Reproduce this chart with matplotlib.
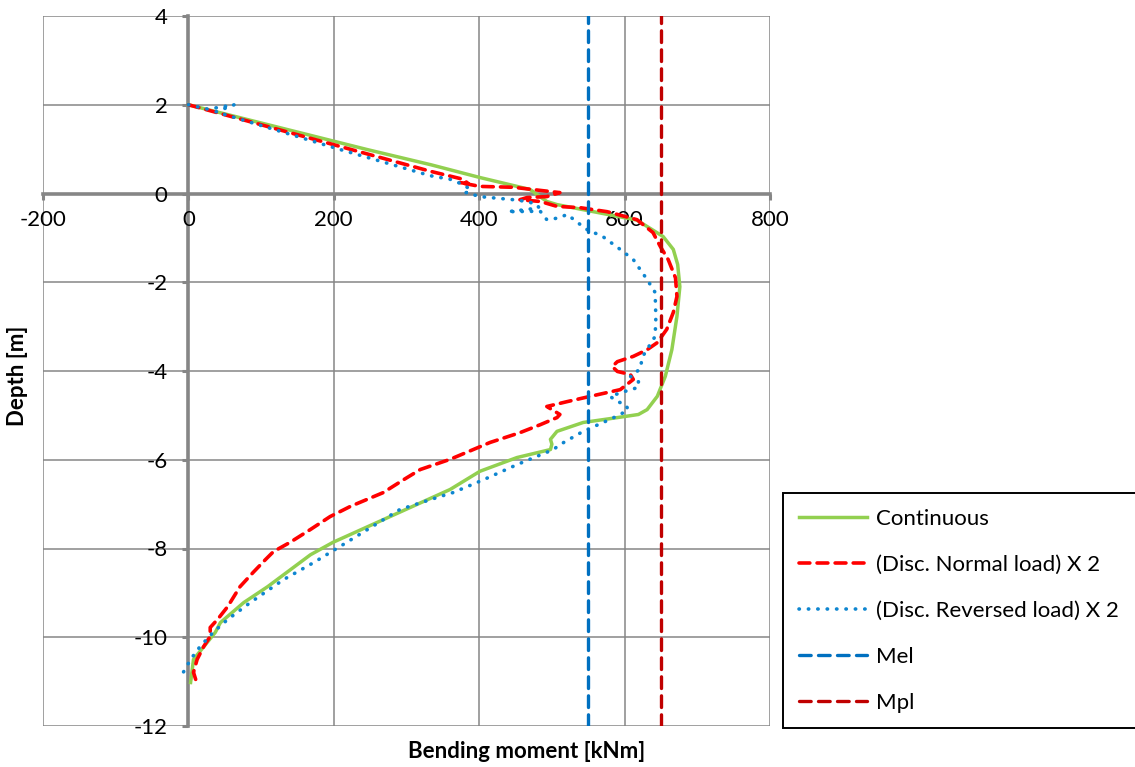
import matplotlib.pyplot as plt

plt.rcParams['font.family'] = ['Lato', 'DejaVu Sans']
plt.rcParams['axes.unicode_minus'] = False

# bending moment [kNm] vs depth [m]
cont_m = [0, 246, 333, 401, 470, 493, 507, 617, 653, 667, 673, 676, 672, 665, 656, 645,
          631, 619, 590, 543, 507, 498, 500, 498, 452, 401, 360, 268, 199, 168, 109, 76,
          44, 37, 7, 3]
cont_d = [2.0, 0.99, 0.65, 0.36, 0.09, -0.18, -0.25, -0.60, -0.97, -1.26, -1.6, -2.1,
          -2.77, -3.52, -4.12, -4.57, -4.87, -4.98, -5.05, -5.16, -5.36, -5.54, -5.65,
          -5.77, -5.95, -6.26, -6.67, -7.35, -7.86, -8.14, -8.86, -9.22, -9.67, -9.89,
          -10.5, -11.02]

norm_m = [0, 333, 378, 385, 372, 401, 447, 484, 511, 493, 466, 456, 484, 507, 539, 576,
          617, 639, 649, 660, 670, 672, 667, 658, 645, 631, 612, 590, 583, 590, 608, 612,
          594, 553, 521, 493, 511, 507, 484, 456, 415, 360, 319, 296, 268, 223, 195, 168,
          140, 117, 106, 89, 71, 54, 40, 30, 30, 21, 12, 7, 10]
norm_d = [2.0, 0.50, 0.32, 0.22, 0.25, 0.16, 0.14, 0.07, 0.02, -0.07, -0.09, -0.14,
          -0.18, -0.29, -0.32, -0.41, -0.59, -0.88, -1.19, -1.49, -1.9, -2.32, -2.68,
          -3.06, -3.36, -3.52, -3.67, -3.79, -3.90, -4.01, -4.08, -4.19, -4.42, -4.57,
          -4.69, -4.80, -4.98, -5.05, -5.21, -5.39, -5.61, -5.99, -6.22, -6.45, -6.74,
          -7.05, -7.28, -7.57, -7.86, -8.07, -8.25, -8.54, -8.86, -9.31, -9.60, -9.78,
          -9.98, -10.21, -10.50, -10.79, -10.95]

rev_m = [0, 27, 63, 38, 209, 333, 360, 378, 388, 382, 401, 447, 466, 480, 482, 466, 439,
         484, 493, 510, 521, 535, 548, 570, 594, 612, 631, 642, 643, 642, 625, 621, 608,
         619, 619, 608, 580, 590, 601, 605, 594, 580, 543, 511, 502, 452, 406, 364, 346,
         291, 209, 172, 131, 85, 54, 34, 16, 3, -7, -11]
rev_d = [2.0, 1.90, 2.00, 1.84, 0.99, 0.40, 0.32, 0.20, 0.09, 0.02, -0.07, -0.14, -0.18,
         -0.25, -0.32, -0.36, -0.41, -0.40, -0.59, -0.55, -0.47, -0.65, -0.81, -0.97,
         -1.26, -1.49, -1.94, -2.23, -2.8, -3.22, -3.67, -3.96, -4.12, -4.24, -4.37,
         -4.42, -4.57, -4.69, -4.75, -4.87, -4.98, -5.09, -5.36, -5.66, -5.77, -6.11,
         -6.45, -6.74, -6.83, -7.12, -7.95, -8.32, -8.70, -9.22, -9.60, -9.89, -10.21,
         -10.50, -10.79, -10.95]

mel = 550
mpl_val = 650

gray = '#868686'

fig = plt.figure(figsize=(11.35, 7.67), dpi=100)
ax = fig.add_axes([43/1135, 1-726/767, (770-43)/1135, (726-16)/767])

ax.plot(cont_m, cont_d, color='#92D050', lw=2.5, label='Continuous')
ax.plot(norm_m, norm_d, color='#FF0000', lw=2.6, dashes=(3, 2),
        dash_capstyle='round', label='(Disc. Normal load) X 2')
ax.plot(rev_m, rev_d, color='#0E86D0', lw=2.6, dashes=(0.1, 2.5),
        dash_capstyle='round', label='(Disc. Reversed load) X 2')
ax.axvline(mel, color='#0070C0', lw=2.4, dashes=(3.5, 2.2), dash_capstyle='round', label='Mel')
ax.axvline(mpl_val, color='#C00000', lw=2.4, dashes=(3.5, 2.2), dash_capstyle='round', label='Mpl')

ax.set_xlim(-200, 800)
ax.set_ylim(-12, 4)
ax.set_xticks(range(-200, 801, 200))
ax.set_yticks(range(-12, 5, 2))

ax.grid(True, color=gray, lw=1.1)
ax.set_axisbelow(True)
for gl in ax.get_xgridlines() + ax.get_ygridlines():
    gl.set_clip_on(False)

for s in ['top', 'right']:
    ax.spines[s].set_visible(False)
ax.spines['left'].set_position(('data', 0))
ax.spines['bottom'].set_position(('data', 0))
for s in ['left', 'bottom']:
    ax.spines[s].set_color(gray)
    ax.spines[s].set_linewidth(2.6)
    ax.spines[s].set_zorder(0.5)

ax.tick_params(axis='both', colors=gray, width=2.2, length=4, labelsize=16, labelcolor='black')
ax.tick_params(axis='y', pad=11)
ax.tick_params(axis='x', pad=8)

fig.text(527/1135, 1-752/767, 'Bending moment [kNm]', fontsize=16, fontweight='bold',
         ha='center', va='center')
fig.text(18/1135, 1-376/767, 'Depth [m]', fontsize=16, fontweight='bold',
         ha='center', va='center', rotation=90)

leg = fig.legend(loc='upper left', bbox_to_anchor=(783/1135, 0, 0.33, 1-493/767),
                 mode='expand', fontsize=16, frameon=True, fancybox=False,
                 edgecolor='black', framealpha=1, handlelength=3.1, handletextpad=0.4,
                 labelspacing=1.17, borderpad=0.7, borderaxespad=0)
leg.get_frame().set_linewidth(1.4)

fig.savefig('out.png', dpi=100)
